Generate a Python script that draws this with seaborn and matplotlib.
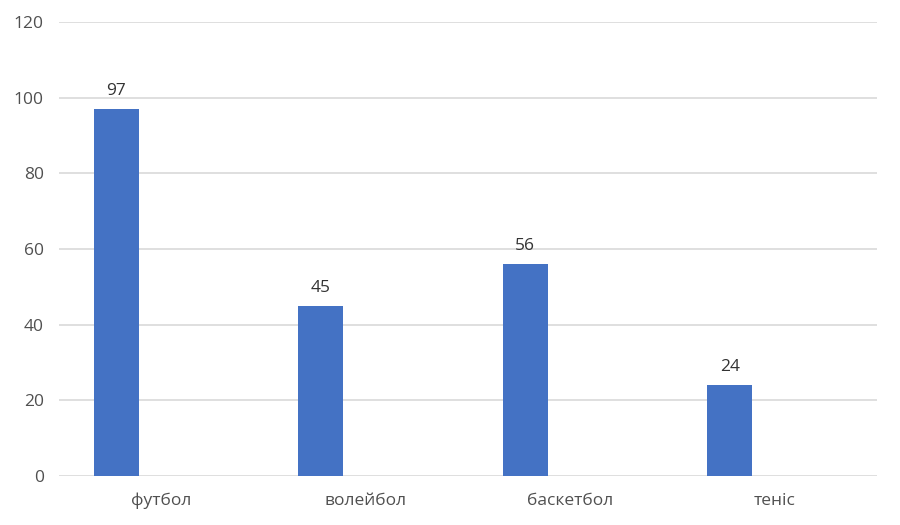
import pandas as pd
import matplotlib
matplotlib.use('Agg')
import matplotlib.pyplot as plt
import seaborn as sns

categories = ['футбол', 'волейбол', 'баскетбол', 'теніс']
values = [97, 45, 56, 24]
# Excel chart had 3 series, only the first filled
series_names = ['Ряд 1', 'Ряд 2', 'Ряд 3']

df = pd.DataFrame({
    'cat': categories * 3,
    'series': [series_names[0]] * 4 + [series_names[1]] * 4 + [series_names[2]] * 4,
    'val': values + [0] * 4 + [0] * 4,
})

sns.set_theme(style='white')
plt.rcParams['font.family'] = ['Open Sans', 'DejaVu Sans']

fig = plt.figure(figsize=(9, 5.25), dpi=100)
ax = fig.add_axes([59 / 900, 1 - 476 / 525, (877 - 59) / 900, (476 - 22) / 525])

sns.barplot(data=df, x='cat', y='val', hue='series', order=categories,
            hue_order=series_names, palette=['#4472C4', '#ED7D31', '#A5A5A5'],
            width=0.66, saturation=1, legend=False, linewidth=0, ax=ax)

ax.bar_label(ax.containers[0], labels=[str(v) for v in values], padding=7,
             fontsize=12.5, color='#333333')

ax.set_ylim(0, 120)
ax.set_yticks(range(0, 121, 20))
ax.set_xlim(-0.5, 3.5)
ax.yaxis.grid(True, color='#d9d9d9', linewidth=1.2)
ax.set_axisbelow(True)
for s in ax.spines.values():
    s.set_visible(False)
ax.set_xlabel('')
ax.set_ylabel('')
ax.tick_params(axis='y', length=0, pad=11, labelsize=12.5, labelcolor='#505050')
ax.tick_params(axis='x', length=0, pad=12, labelsize=12.5, labelcolor='#505050')

fig.savefig('out.png', dpi=100)
